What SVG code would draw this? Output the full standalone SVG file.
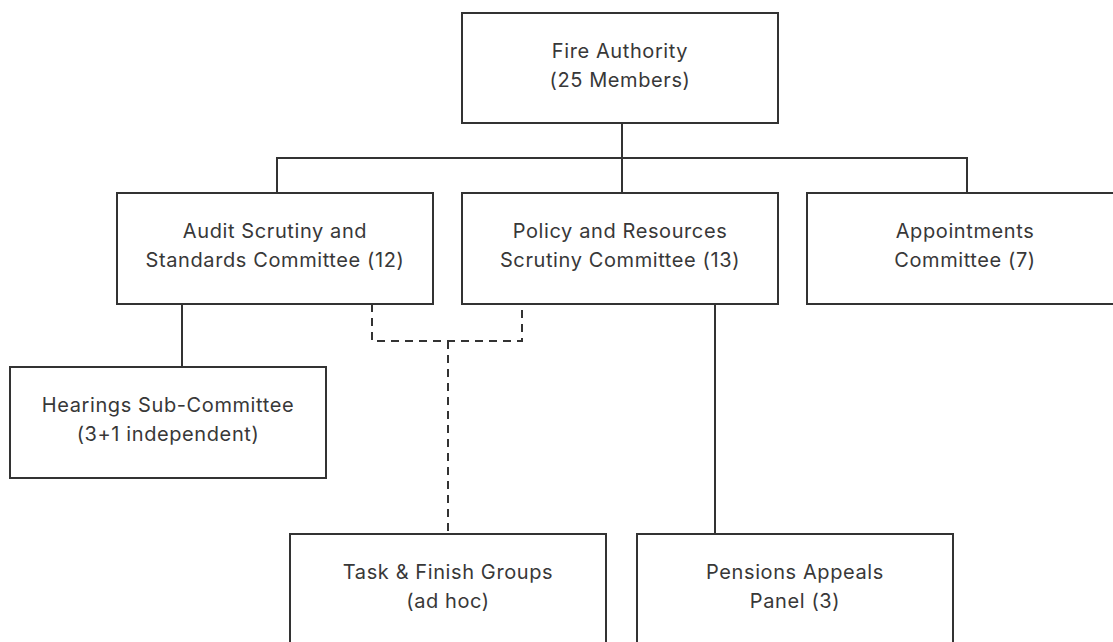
<svg xmlns="http://www.w3.org/2000/svg" width="1113" height="642" viewBox="0 0 1113 642">
<style>
.box{fill:#fff;stroke:#333;stroke-width:2}
.t{font-family:Inter,"Noto Sans","Liberation Sans",sans-serif;font-size:20px;letter-spacing:0.6px;fill:#383838;text-anchor:middle}
.c{fill:none;stroke:#333;stroke-width:2}
.d{fill:none;stroke:#333;stroke-width:2;stroke-dasharray:8 6}
</style>
<rect width="1113" height="642" fill="#fff"/>
<g id="connectors">
<path class="c" d="M622 123V193M277 193V158H967V193"/>
<path class="c" d="M182 304V367"/>
<path class="c" d="M715 304V534"/>
<path class="d" d="M372 304V341H522V304"/>
<path class="d" d="M448 341V534"/>
</g>
<g id="fire-authority"><rect class="box" x="462" y="13" width="316" height="110"/><text class="t" x="620" y="58">Fire Authority</text><text class="t" x="620" y="87">(25 Members)</text></g>
<g id="audit"><rect class="box" x="117" y="193" width="316" height="111"/><text class="t" x="275" y="238">Audit Scrutiny and</text><text class="t" x="275" y="267">Standards Committee (12)</text></g>
<g id="policy"><rect class="box" x="462" y="193" width="316" height="111"/><text class="t" x="620" y="238">Policy and Resources</text><text class="t" x="620" y="267">Scrutiny Committee (13)</text></g>
<g id="appointments"><rect class="box" x="807" y="193" width="316" height="111"/><text class="t" x="965" y="238">Appointments</text><text class="t" x="965" y="267">Committee (7)</text></g>
<g id="hearings"><rect class="box" x="10" y="367" width="316" height="111"/><text class="t" x="168" y="412">Hearings Sub-Committee</text><text class="t" x="168" y="441">(3+1 independent)</text></g>
<g id="task-finish"><rect class="box" x="290" y="534" width="316" height="111"/><text class="t" x="448" y="579">Task &amp; Finish Groups</text><text class="t" x="448" y="608">(ad hoc)</text></g>
<g id="pensions"><rect class="box" x="637" y="534" width="316" height="111"/><text class="t" x="795" y="579">Pensions Appeals</text><text class="t" x="795" y="608">Panel (3)</text></g>
</svg>
